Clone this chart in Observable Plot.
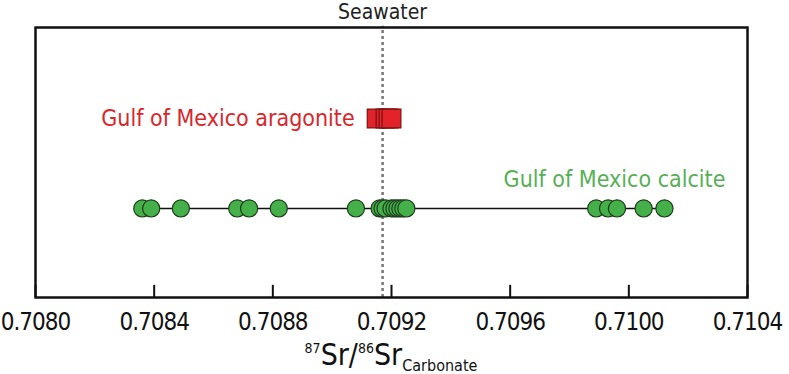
<!DOCTYPE html>
<html>
<head>
<meta charset="utf-8">
<script src="https://cdn.jsdelivr.net/npm/d3@7"></script>
<script src="https://cdn.jsdelivr.net/npm/@observablehq/plot@0.6"></script>
<style>
  html, body { margin: 0; padding: 0; background: #fff; }
  svg { display: block; }
</style>
</head>
<body>
<div id="chart"></div>
<script>
// ---- data ----
const xTicks = [0.7080, 0.7084, 0.7088, 0.7092, 0.7096, 0.7100, 0.7104];
const seawater = 0.70917;
const aragonite = [0.70915, 0.70918, 0.70919, 0.70920];
const calcite = [0.70836, 0.70839, 0.70849, 0.70868, 0.70872, 0.70882, 0.70908,
  0.70916, 0.70917, 0.70918, 0.70920, 0.70921, 0.70922, 0.70923, 0.70924, 0.70925,
  0.70989, 0.70993, 0.70996, 0.71005, 0.71012];
const seriesNames = ["Gulf of Mexico aragonite", "Gulf of Mexico calcite"];
const seriesRow = [0.663, 0.33];

const FONT = "'Liberation Sans Narrow','Arial Narrow','DejaVu Sans Condensed',sans-serif";
const RED = "#e3232a", RED_STROKE = "#7a1212";
const GREEN = "#45b049", GREEN_STROKE = "#1d3d1d";

const aragRows = aragonite.map(v => ({x: v, y: seriesRow[0]}));
const calcRows = calcite.map(v => ({x: v, y: seriesRow[1]}));
const [cMin, cMax] = d3.extent(calcite);

const plot = Plot.plot({
  width: 789,
  height: 374,
  marginLeft: 35,
  marginRight: 42,
  marginTop: 27,
  marginBottom: 77,
  style: {fontFamily: FONT, background: "#fff", overflow: "visible"},
  x: {domain: [xTicks[0], xTicks[xTicks.length - 1]]},
  y: {domain: [0, 1], axis: null},
  marks: [
    Plot.ruleX(xTicks, {y1: 0, y2: 0.045, stroke: "#111", strokeWidth: 2}),
    Plot.axisX({ticks: xTicks, tickSize: 0, tickPadding: 15, tickFormat: d => d.toFixed(4),
      fontSize: 24, fill: "#111", label: null}),
    Plot.ruleX([seawater], {y1: 0, y2: 1.005, stroke: "#777", strokeWidth: 2.5, strokeDasharray: "3,3"}),
    Plot.text([seawater], {x: d => d, y: 1.058, text: () => "Seawater", fontSize: 21, fill: "#222"}),
    Plot.ruleY([seriesRow[1]], {x1: cMin, x2: cMax, stroke: "#111", strokeWidth: 1.5}),
    Plot.dot(calcRows, {x: "x", y: "y", r: 8.6, fill: GREEN, stroke: GREEN_STROKE, strokeWidth: 1.2}),
    Plot.dot(aragRows, {x: "x", y: "y", r: 10.6, symbol: "square", fill: RED, stroke: RED_STROKE, strokeWidth: 1.2}),
    Plot.text([d3.min(aragonite)], {x: d => d, y: seriesRow[0], dx: -22, text: () => seriesNames[0],
      textAnchor: "end", fontSize: 23, fill: "#d9262b"}),
    Plot.text([cMax], {x: d => d, y: seriesRow[1], dx: 61, dy: -29, text: () => seriesNames[1],
      textAnchor: "end", fontSize: 23, fill: "#55b055"}),
    Plot.frame({stroke: "#111", strokeWidth: 2.5})
  ]
});

const svg = d3.select(plot);
// tighten tick labels slightly so the end labels fit in the window
svg.selectAll('g[aria-label="x-axis tick label"] text').attr("letter-spacing", "-1px");

// axis title with superscripts / subscript
const xs = plot.scale("x");
const cx = (xs.range[0] + xs.range[1]) / 2;
const t = svg.append("text")
  .attr("x", cx).attr("y", 365)
  .attr("text-anchor", "middle")
  .attr("font-family", FONT)
  .attr("font-size", 30)
  .attr("fill", "#111");
t.append("tspan").attr("font-size", 14).attr("dy", -12).text("87");
t.append("tspan").attr("dy", 12).text("Sr/");
t.append("tspan").attr("font-size", 14).attr("dy", -12).text("86");
t.append("tspan").attr("dy", 12).text("Sr");
t.append("tspan").attr("font-size", 16).attr("dy", 6).text("Carbonate");

document.getElementById("chart").append(plot);
</script>
</body>
</html>
